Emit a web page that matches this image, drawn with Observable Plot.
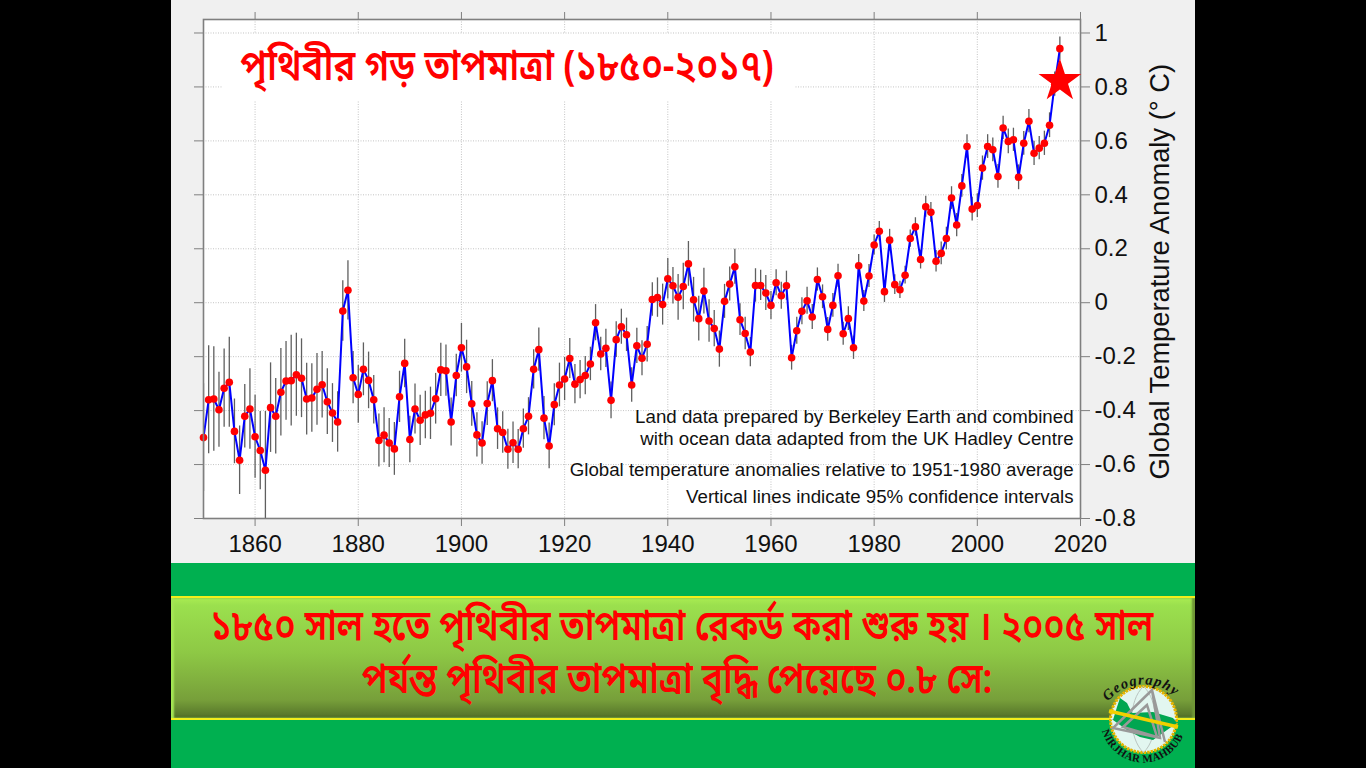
<!DOCTYPE html>
<html><head><meta charset="utf-8">
<script src="https://cdn.jsdelivr.net/npm/d3@7"></script>
<script src="https://cdn.jsdelivr.net/npm/@observablehq/plot@0.6"></script>
<style>
html,body{margin:0;padding:0;background:#000;width:1366px;height:768px;overflow:hidden}
#stage{position:relative;width:1366px;height:768px;background:#000;overflow:hidden;font-family:"Noto Sans Bengali","Noto Serif Bengali","Lohit Bengali","Noto Sans","Liberation Sans",sans-serif}
.abs{position:absolute}
#panel{left:171px;top:0;width:1024px;height:563px;background:#f0f0f0}
#green{left:171px;top:563px;width:1024px;height:205px;background:#00b050}
#band{left:171px;top:596px;width:1024px;height:124px;box-sizing:border-box;border-top:2px solid #f2ee1c;border-bottom:2px solid #f2ee1c;background:linear-gradient(#a9ec52 0,#9be04e 6%,#8ec945 45%,#779f3a 85%,#5a7a2c 97%,#4a6425 100%);box-shadow:inset 3px 0 2px #a4e654,inset -3px 0 2px #6f9636}
#chart{left:0;top:0;width:1366px;height:768px}
#titlebox{left:222px;top:34px;width:573px;height:66px;background:#fff}
#title{left:-176px;top:36px;width:1366px;height:66px;line-height:66px;text-align:center;color:#f00;font-size:42px;font-weight:600;white-space:nowrap;transform:scaleX(.865)}
.cap{width:1366px;text-align:center;color:#f00;font-size:42px;font-weight:600;white-space:nowrap;line-height:52px;transform:scaleX(.84)}
#logo{left:1093px;top:670px;overflow:visible}
</style></head>
<body>
<div id="stage">
<div class="abs" id="panel"></div>
<div class="abs" id="green"></div>
<div class="abs" id="band"></div>
<div class="abs" id="chart"></div>
<div class="abs" id="titlebox"></div>
<div class="abs" id="title">পৃথিবীর গড় তাপমাত্রা (১৮৫০-২০১৭)</div>
<div class="abs cap" style="left:-1px;top:603px">১৮৫০ সাল হতে পৃথিবীর তাপমাত্রা রেকর্ড করা শুরু হয় । ২০০৫ সাল</div>
<div class="abs cap" style="left:-6px;top:656px">পর্যন্ত পৃথিবীর তাপমাত্রা বৃদ্ধি পেয়েছে ০.৮ সে:</div>
<svg class="abs" id="logo" width="100" height="98" viewBox="0 0 100 98">
  <defs>
    <path id="arcTop" d="M14,33 A46,46 0 0 1 88,33"/>
    <path id="arcBot" d="M8,56 A43,43 0 0 0 93,56"/>
  </defs>
  <circle cx="50.5" cy="49.5" r="33" fill="#e2f6f0" stroke="#e8b400" stroke-width="3" stroke-dasharray="2.5 1"/>
  <path d="M50.5,16.5 C35,30 35,68 50.5,82.5 M50.5,16.5 C66,30 66,68 50.5,82.5 M18,49.5 H83" fill="none" stroke="#b9c4c0" stroke-width="1"/>
  <path d="M27,28 L34,33 L39,43 L60,42 L80,48 L84,53 L74,60 L60,70 L47,67 L34,60 L20,50 L24,37 Z" fill="#00a651"/>
  <path d="M59,20 L20,58 L67,68 Z M54,35 L30,57 L64,67 Z M59,20 L72,72" fill="none" stroke="#999" stroke-width="2.5"/>
  <path d="M16,41 L85,57" stroke="#f2d000" stroke-width="3.5"/>
  <text font-family="Liberation Serif,serif" font-style="italic" font-weight="700" font-size="14.5" letter-spacing="1" fill="#111"><textPath href="#arcTop" startOffset="2%">Geography</textPath></text>
  <text font-family="Liberation Serif,serif" font-weight="700" font-size="11" letter-spacing="0.3" fill="#111"><textPath href="#arcBot" startOffset="4%">NIRJHAR MAHBUB</textPath></text>
</svg>
</div>
<script>
const firstYear = 1850;
const anomaly = [
-0.50,-0.36,-0.357,-0.397,-0.317,-0.295,-0.477,-0.584,-0.421,-0.394,
-0.497,-0.548,-0.621,-0.389,-0.421,-0.332,-0.29,-0.289,-0.267,-0.28,
-0.357,-0.353,-0.321,-0.304,-0.367,-0.409,-0.442,-0.031,0.046,-0.278,
-0.34,-0.247,-0.288,-0.36,-0.511,-0.491,-0.52,-0.542,-0.349,-0.225,
-0.507,-0.394,-0.436,-0.416,-0.41,-0.356,-0.249,-0.252,-0.442,-0.27,
-0.167,-0.238,-0.375,-0.49,-0.52,-0.374,-0.289,-0.467,-0.481,-0.543,
-0.519,-0.543,-0.467,-0.421,-0.247,-0.174,-0.428,-0.531,-0.378,-0.305,
-0.283,-0.207,-0.302,-0.285,-0.27,-0.227,-0.074,-0.19,-0.169,-0.362,
-0.137,-0.089,-0.119,-0.305,-0.16,-0.206,-0.154,0.012,0.019,-0.007,
0.089,0.063,0.02,0.06,0.144,0.011,-0.059,0.043,-0.068,-0.096,
-0.172,0.005,0.069,0.133,-0.063,-0.114,-0.183,0.064,0.064,0.036,
-0.01,0.074,0.026,0.063,-0.204,-0.104,-0.032,0.007,-0.053,0.086,
0.022,-0.099,-0.01,0.1,-0.115,-0.059,-0.167,0.137,0.006,0.099,
0.214,0.265,0.041,0.232,0.067,0.048,0.102,0.238,0.281,0.16,
0.356,0.335,0.154,0.183,0.238,0.388,0.288,0.433,0.579,0.347,
0.36,0.499,0.579,0.567,0.468,0.648,0.598,0.604,0.465,0.591,
0.673,0.554,0.573,0.591,0.658,0.81,0.942];
const halfCI = [
0.2,0.2,0.194,0.139,0.145,0.167,0.12,0.127,0.118,0.149,
0.154,0.145,0.218,0.166,0.14,0.162,0.146,0.168,0.154,0.146,
0.133,0.127,0.133,0.123,0.122,0.109,0.112,0.112,0.11,0.097,
0.107,0.098,0.105,0.09,0.098,0.102,0.091,0.098,0.095,0.09,
0.086,0.093,0.093,0.088,0.097,0.094,0.099,0.095,0.089,0.079,
0.09,0.099,0.083,0.082,0.079,0.081,0.078,0.077,0.077,0.074,
0.077,0.073,0.073,0.069,0.073,0.08,0.08,0.085,0.078,0.081,
0.08,0.074,0.073,0.071,0.071,0.062,0.067,0.062,0.071,0.068,
0.066,0.065,0.062,0.064,0.065,0.065,0.066,0.062,0.073,0.076,
0.075,0.068,0.085,0.086,0.083,0.083,0.083,0.085,0.079,0.067,
0.067,0.063,0.063,0.065,0.059,0.06,0.054,0.062,0.056,0.065,
0.052,0.048,0.05,0.054,0.046,0.05,0.05,0.05,0.046,0.043,
0.044,0.044,0.044,0.043,0.043,0.044,0.043,0.042,0.039,0.043,
0.037,0.036,0.04,0.04,0.037,0.032,0.033,0.032,0.034,0.035,
0.039,0.037,0.04,0.042,0.042,0.042,0.043,0.042,0.044,0.044,
0.044,0.045,0.044,0.044,0.044,0.043,0.046,0.043,0.046,0.044,
0.043,0.045,0.043,0.045,0.046,0.045,0.043];
const xTicks = [1860,1880,1900,1920,1940,1960,1980,2000,2020];
const yTicks = [-0.8,-0.6,-0.4,-0.2,0,0.2,0.4,0.6,0.8,1];
const yLabel = "Global Temperature Anomaly (° C)";
const noteLines = ["Land data prepared by Berkeley Earth and combined","with ocean data adapted from the UK Hadley Centre","Global temperature anomalies relative to 1951-1980 average","Vertical lines indicate 95% confidence intervals"];
const noteValues = [-0.422,-0.507,-0.622,-0.722];
const starYear = 2016, starValue = 0.822;

const rows = anomaly.map((v,i)=>({year:firstYear+i, v, lo:v-halfCI[i], hi:v+halfCI[i]}));
const notes = noteLines.map((t,i)=>({t, y:noteValues[i]}));
const axisColor = "#7f7f7f";
const blank = () => "";

const chart = Plot.plot({
  width:1366, height:768,
  marginLeft:203, marginRight:286, marginTop:19, marginBottom:250,
  style:{background:"transparent",fontFamily:"'Liberation Sans',Arial,sans-serif",fontSize:"24px",color:"#111",overflow:"visible"},
  x:{domain:[1850,2020],axis:null},
  y:{domain:[-0.8,1.05],axis:null},
  marks:[
    Plot.frame({fill:"#fff",stroke:null}),
    Plot.gridX(xTicks,{stroke:"#b5b5b5",strokeOpacity:0.8,strokeWidth:1,strokeDasharray:"1 1.5"}),
    Plot.gridY(yTicks,{stroke:"#b5b5b5",strokeOpacity:0.8,strokeWidth:1,strokeDasharray:"1 1.5"}),
    Plot.ruleX(rows,{x:"year",y1:"lo",y2:"hi",stroke:"#5f5f5f",strokeWidth:1.3,clip:true}),
    Plot.line(rows,{x:"year",y:"v",stroke:"#0000ff",strokeWidth:2,curve:"linear"}),
    Plot.dot(rows,{x:"year",y:"v",r:3.8,fill:"#ff0000",stroke:null}),
    Plot.text(notes,{x:()=>2018.65,y:"y",text:"t",textAnchor:"end",fontSize:18.7,fill:"#111"}),
    Plot.frame({stroke:axisColor,strokeWidth:1.6}),
    Plot.axisX({anchor:"bottom",ticks:xTicks,tickSize:8,tickPadding:8,stroke:axisColor,fill:"#111",fontSize:24,label:null,tickFormat:"d"}),
    Plot.axisX({anchor:"top",ticks:xTicks,tickSize:8,tickFormat:blank,stroke:axisColor,label:null}),
    Plot.axisY({anchor:"right",ticks:yTicks,tickSize:9,tickPadding:5,stroke:axisColor,fill:"#111",fontSize:24,label:null,tickFormat:d=>String(d)}),
    Plot.axisY({anchor:"left",ticks:yTicks,tickSize:9,tickFormat:blank,stroke:axisColor,label:null}),
    Plot.text([yLabel],{x:()=>2035.5,y:()=>0.115,text:d=>d,rotate:-90,fontSize:27.3,fill:"#111"}),
    Plot.dot([{year:starYear,v:starValue}],{x:"year",y:"v",symbol:"star",r:13.4,fill:"#ff0000",stroke:null})
  ]
});
document.getElementById("chart").appendChild(chart);
</script>
</body></html>
